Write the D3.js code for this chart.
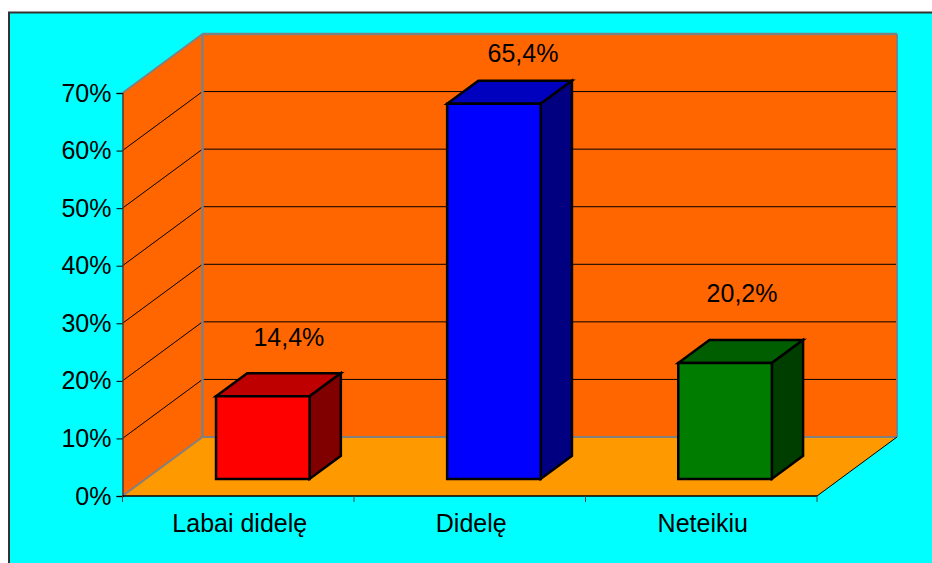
<!DOCTYPE html>
<html><head><meta charset="utf-8">
<script src="https://cdn.jsdelivr.net/npm/d3@7"></script>
<style>html,body{margin:0;padding:0;background:#fff}svg{display:block}text{font-family:"Liberation Sans",Arial,sans-serif;fill:#000}</style>
</head><body><svg id="c" width="932" height="563"></svg>
<script>
const categories = ["Labai didelę", "Didelę", "Neteikiu"];
const values = [14.4, 65.4, 20.2];
const valueLabels = ["14,4%", "65,4%", "20,2%"];
const yTicks = [0, 10, 20, 30, 40, 50, 60, 70];
const faceColors = ["#ff0000", "#0000ff", "#007c00"];
const topColors = ["#bf0000", "#0000bf", "#005d00"];
const sideColors = ["#800000", "#000080", "#003e00"];

const svg = d3.select("#c");
const W = 932, H = 563;
const L = 122.5, R = 817, Y0 = 496, Y70 = 93, DX = 80, DY = -59;
const y = d3.scaleLinear().domain([0, 70]).range([Y0, Y70]);
// bars sit slightly further back in the box, so their scale is a touch shorter
const yBar = d3.scaleLinear().domain([0, 70]).range([Y0, Y70 + 1.5]);
const x = d3.scaleBand().domain(categories).range([L, R]).paddingInner(0.595).paddingOuter(0.3);
const poly = (pts, fill, stroke, sw) => svg.append("polygon")
  .attr("points", pts.map(p => p.join(",")).join(" "))
  .attr("fill", fill).attr("stroke", stroke || "none").attr("stroke-width", sw || 0)
  .attr("stroke-linejoin", "miter");
const line = (a, b, c, w) => svg.append("line").attr("x1", a[0]).attr("y1", a[1]).attr("x2", b[0]).attr("y2", b[1])
  .attr("stroke", c).attr("stroke-width", w);

// chart area
svg.append("rect").attr("x", 9).attr("y", 12.5).attr("width", W + 10).attr("height", H + 10)
  .attr("fill", "#00ffff").attr("stroke", "#333").attr("stroke-width", 2);

// walls and floor
poly([[L, y(0)], [L + DX, y(0) + DY], [L + DX, y(70) + DY], [L, y(70)]], "#ff6600");
poly([[L + DX, y(0) + DY], [R + DX, y(0) + DY], [R + DX, y(70) + DY], [L + DX, y(70) + DY]], "#ff6600");
poly([[L, y(0)], [R, y(0)], [R + DX, y(0) + DY], [L + DX, y(0) + DY]], "#ff9900");

// gridlines
yTicks.slice(1).forEach(t => {
  if (t !== 70) line([L, y(t)], [L + DX, y(t) + DY], "#000", 1);
  line([L + DX, y(t) + DY], [R + DX, y(t) + DY], "#000", 1);
});
// wall outlines
line([L, y(70)], [L + DX, y(70) + DY], "#808080", 2);
line([L + DX, y(70) + DY], [R + DX, y(70) + DY], "#808080", 2.5);
line([L + DX, y(70) + DY], [L + DX, y(0) + DY], "#808080", 2.5);
line([L + DX, y(0) + DY], [R + DX, y(0) + DY], "#808080", 2);
line([R + DX, y(70) + DY], [R + DX, y(0) + DY], "#808080", 2);
line([L, y(0)], [L + DX, y(0) + DY], "#808080", 2);
line([R, y(0)], [R + DX, y(0) + DY], "#000", 1);

// bars
const d0 = 0.29, d1 = 0.68, barShift = 1;
const labelDx = [26, 29, 17], labelDy = [-50, -42, -61];
categories.forEach((c, i) => {
  const xa = x(c) + DX * d0 + barShift, xb = xa + x.bandwidth();
  const yb = y(0) + DY * d0, yt = yBar(values[i]) + DY * d0;
  const ox = DX * (d1 - d0), oy = DY * (d1 - d0);
  const s = "#000", sw = 2.5;
  poly([[xa, yt], [xb, yt], [xb + ox, yt + oy], [xa + ox, yt + oy]], topColors[i], s, sw);
  poly([[xb, yt], [xb + ox, yt + oy], [xb + ox, yb + oy], [xb, yb]], sideColors[i], s, sw);
  poly([[xa, yb], [xb, yb], [xb, yt], [xa, yt]], faceColors[i], s, sw);
  svg.append("text").attr("x", xa + x.bandwidth() / 2 + labelDx[i]).attr("y", yt + labelDy[i])
    .attr("text-anchor", "middle").attr("font-size", 25).text(valueLabels[i]);
});

// axes
const yAxis = d3.axisLeft(y).tickValues(yTicks).tickFormat(d => d + "%").tickSize(6).tickPadding(5);
const gy = svg.append("g").attr("transform", `translate(${L},0)`).call(yAxis);
gy.select(".domain").attr("stroke", "#404040").attr("stroke-width", 1.5);
gy.selectAll(".tick line").attr("stroke", "#000");
gy.selectAll("text").attr("font-size", 25).attr("font-family", '"Liberation Sans"');

const xEdges = d3.scaleLinear().domain([0, categories.length]).range([L, R]);
const gx = svg.append("g").attr("transform", `translate(0,${Y0})`);
gx.append("line").attr("x1", L).attr("x2", R).attr("stroke", "#000").attr("stroke-width", 1.5);
d3.range(categories.length + 1).forEach(k => {
  gx.append("line").attr("x1", xEdges(k)).attr("x2", xEdges(k)).attr("y1", 0).attr("y2", 6).attr("stroke", "#404040");
});
categories.forEach((c, i) => {
  gx.append("text").attr("x", xEdges(i + 0.5) + 1.5).attr("y", 36).attr("text-anchor", "middle").attr("font-size", 25).text(c);
});
</script></body></html>
